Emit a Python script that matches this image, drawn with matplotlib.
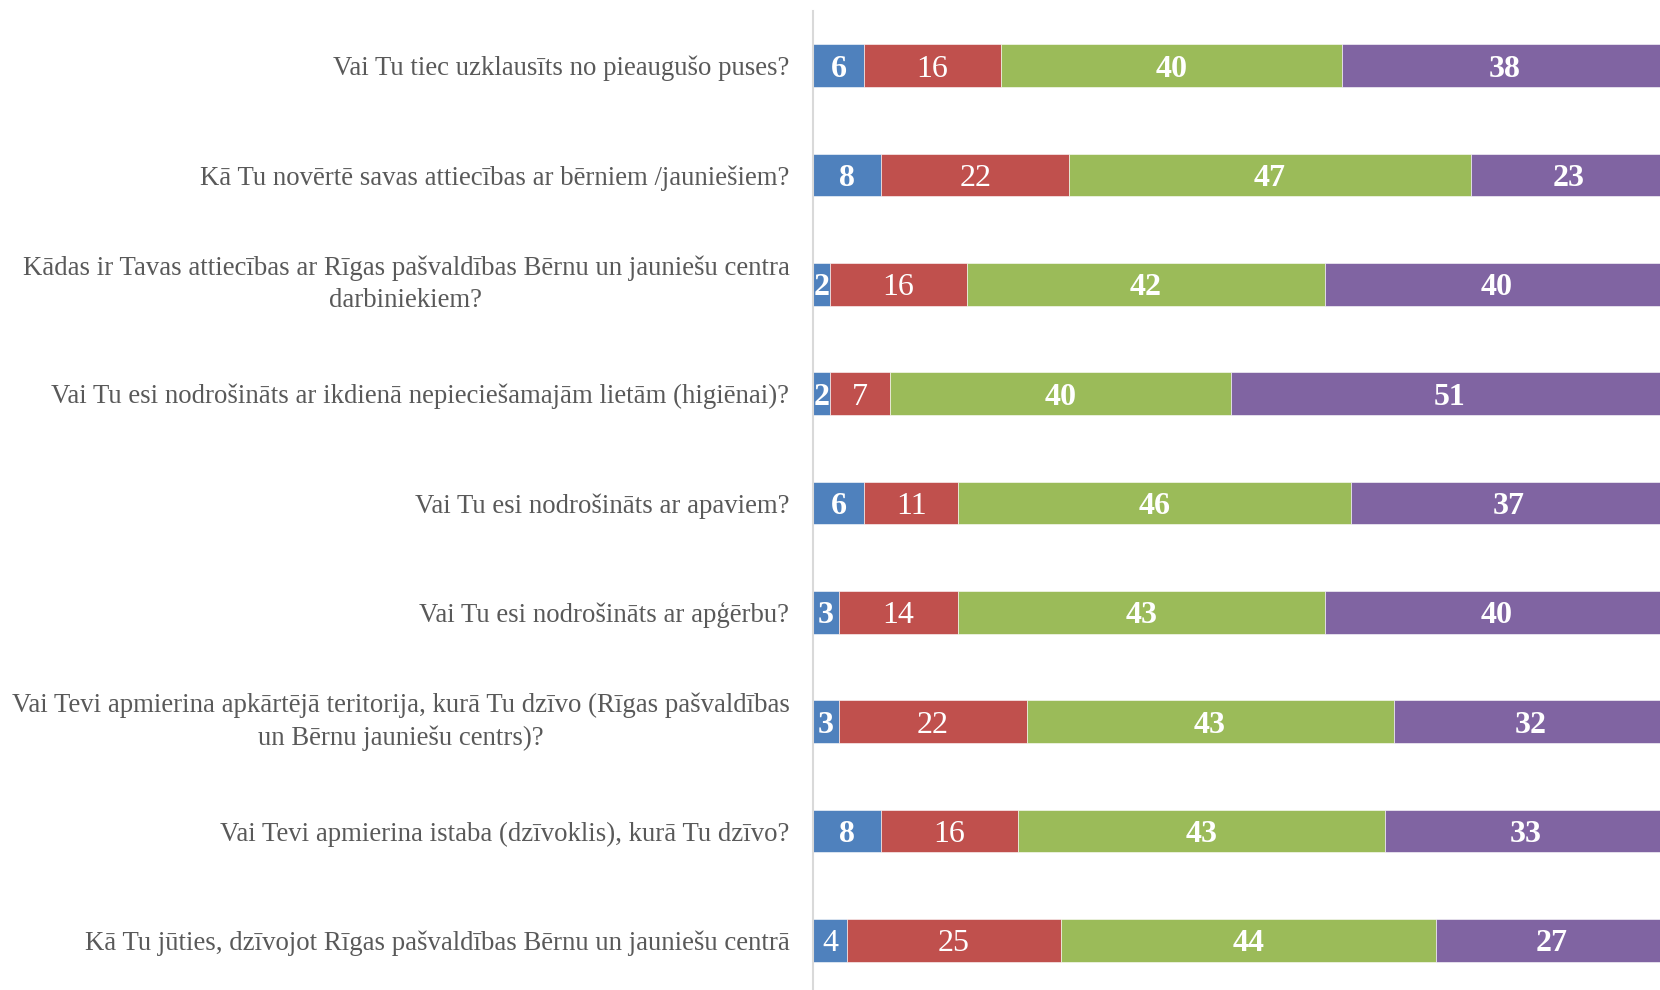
import matplotlib
matplotlib.use("Agg")
import matplotlib.pyplot as plt
import numpy as np

categories = [
    "Vai Tu tiec uzklausīts no pieaugušo puses?",
    "Kā Tu novērtē savas attiecības ar bērniem /jauniešiem?",
    "Kādas ir Tavas attiecības ar Rīgas pašvaldības Bērnu un jauniešu centra\ndarbiniekiem?",
    "Vai Tu esi nodrošināts ar ikdienā nepieciešamajām lietām (higiēnai)?",
    "Vai Tu esi nodrošināts ar apaviem?",
    "Vai Tu esi nodrošināts ar apģērbu?",
    "Vai Tevi apmierina apkārtējā teritorija, kurā Tu dzīvo (Rīgas pašvaldības\nun Bērnu jauniešu centrs)?",
    "Vai Tevi apmierina istaba (dzīvoklis), kurā Tu dzīvo?",
    "Kā Tu jūties, dzīvojot Rīgas pašvaldības Bērnu un jauniešu centrā",
]
series1 = [6, 8, 2, 2, 6, 3, 3, 8, 4]
series2 = [16, 22, 16, 7, 11, 14, 22, 16, 25]
series3 = [40, 47, 42, 40, 46, 43, 43, 43, 44]
series4 = [38, 23, 40, 51, 37, 40, 32, 33, 27]

colors = ["#4F81BD", "#C0504D", "#9BBB59", "#8064A2"]
label_weights = ["bold", "normal", "bold", "bold"]

plt.rcParams["font.family"] = ["Liberation Serif", "DejaVu Serif"]

W, H = 1660, 990
fig = plt.figure(figsize=(W / 100, H / 100), dpi=100)
ax_left, ax_right = 813, 1667
ax_top, ax_bottom = 11, 995
ax = fig.add_axes([ax_left / W, 1 - ax_bottom / H, (ax_right - ax_left) / W, (ax_bottom - ax_top) / H])

y = np.arange(len(categories))
left = np.zeros(len(categories))
all_series = [series1, series2, series3, series4]
for si, (vals, col) in enumerate(zip(all_series, colors)):
    vals = np.array(vals, dtype=float)
    ax.barh(y, vals, left=left, height=0.39, color=col, edgecolor="white", linewidth=0.4, zorder=2)
    for i, v in enumerate(vals):
        w = label_weights[si]
        if si == 0 and i == len(categories) - 1:
            w = "normal"
        ax.text(left[i] + v / 2, y[i], f"{int(v)}", ha="center", va="center_baseline",
                color="white", fontsize=23, fontweight=w, zorder=3)
    left += vals

ax.set_xlim(0, 100)
ax.set_ylim(len(categories) - 0.5, -0.5)
ax.set_yticks(y)
ax.set_yticklabels(categories, fontsize=19.3, color="#595959")
for t in ax.get_yticklabels():
    t.set_multialignment("center")
    t.set_linespacing(1.4)
    if "\n" in t.get_text():
        t.set_verticalalignment("center")
ax.tick_params(axis="y", length=0, pad=17)
ax.set_xticks([])
for s in ["top", "right", "bottom"]:
    ax.spines[s].set_visible(False)
ax.spines["left"].set_color("#D9D9D9")
ax.spines["left"].set_linewidth(1.5)

fig.savefig("out.png", dpi=100)
